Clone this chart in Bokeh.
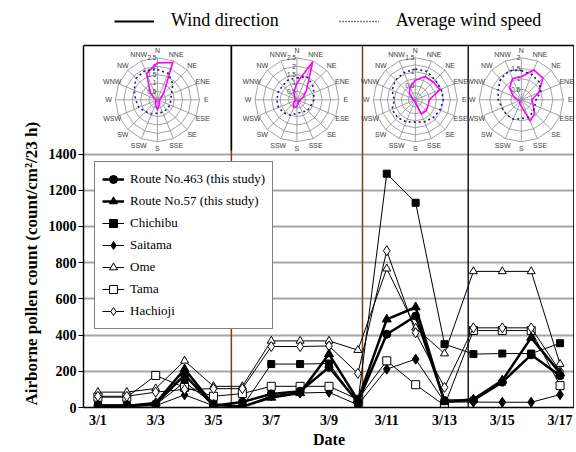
import numpy as np
from bokeh.plotting import figure
from bokeh.models import Range1d, FixedTicker, Legend, LegendItem, Title
from bokeh.core.properties import value
from bokeh.embed import file_html
from bokeh.resources import INLINE

# ---------------- data ----------------
dates = ["3/1", "3/2", "3/3", "3/4", "3/5", "3/6", "3/7", "3/8", "3/9",
         "3/10", "3/11", "3/12", "3/13", "3/14", "3/15", "3/16", "3/17"]
tick_idx = [0, 2, 4, 6, 8, 10, 12, 14, 16]
y_ticks = [0, 200, 400, 600, 800, 1000, 1200, 1400]

route463 = [10, 10, 20, 180, 10, 30, 75, 90, 222, 30, 405, 505, 38, 40, 140, 291, 176]
route57 = [8, 8, 25, 212, 15, 5, 55, 80, 295, 40, 487, 554, 30, 45, 150, 386, 190]
chichibu = [15, 15, 15, 140, 20, 5, 240, 240, 243, 25, 1292, 1131, 350, 295, 298, 298, 355]
saitama = [5, 5, 10, 70, 10, 5, 65, 80, 84, 15, 212, 267, 30, 30, 29, 29, 71]
ome = [85, 85, 105, 258, 117, 117, 368, 368, 368, 317, 767, 440, 298, 752, 752, 752, 240]
tama = [57, 57, 177, 111, 62, 77, 117, 117, 117, 45, 258, 126, 11, 425, 425, 425, 121]
hachioji = [62, 62, 85, 100, 104, 104, 337, 337, 340, 188, 866, 413, 111, 440, 440, 440, 200]

# wind roses (16 directions, clockwise from N)
rose_dirs = ["N", "NNE", "NE", "ENE", "E", "ESE", "SE", "SSE",
             "S", "SSW", "SW", "WSW", "W", "WNW", "NW", "NNW"]
rose1_direction = [2.2, 2.4, 0.5, 0.2, 0.15, 0.1, 0.15, 0.3, 0.6, 0.3, 0.15, 0.1, 0.1, 0.2, 0.6, 1.7]
rose1_speed = [1.8, 1.7, 1.3, 0.9, 0.8, 0.8, 0.8, 0.8, 0.8, 0.9, 1.0, 1.2, 1.3, 1.5, 1.8, 1.9]
rose2_direction = [1.0, 2.45, 0.8, 0.4, 0.2, 0.2, 0.1, 0.2, 0.4, 0.5, 0.3, 0.1, 0.1, 0.1, 0.2, 0.5]
rose2_speed = [1.3, 1.5, 1.3, 1.1, 1.0, 0.9, 0.9, 0.8, 0.8, 1.0, 1.1, 1.2, 1.2, 1.2, 1.2, 1.3]
rose3_direction = [0.7, 0.9, 0.9, 0.95, 0.5, 0.5, 0.55, 0.55, 0.1, 0.05, 0.05, 0.05, 0.1, 0.1, 0.3, 0.5]
rose3_speed = [1.1, 1.1, 1.0, 1.0, 1.0, 0.95, 0.9, 0.85, 0.8, 0.85, 0.9, 0.9, 0.75, 0.9, 1.0, 1.05]
rose4_direction = [1.1, 1.55, 1.45, 0.9, 0.5, 0.6, 0.9, 1.1, 0.3, 0.2, 0.1, 0.1, 0.2, 0.4, 0.8, 1.1]
rose4_speed = [1.4, 1.3, 1.2, 1.0, 0.7, 0.7, 0.8, 0.9, 0.9, 1.0, 1.0, 1.0, 1.1, 1.2, 1.4, 1.5]
rose_max = [2.5, 2.5, 1.5, 2.0]
rose_step = [0.5, 0.5, 0.25, 0.5]
rose_ring_labels = [["0.5", "1", "1.5", "2", "2.5"], ["0.5", "1", "1.5", "2", "2.5"],
                    ["", "0.5", "", "1", "", "1.5"], ["0.5", "1", "1.5", "2"]]

separators = [4.62, 9.16, 12.82]

# ---------------- figure ----------------
SERIF = "Liberation Serif"
SANS = "Liberation Sans"
n = len(dates)
x = list(range(n))
Y_TOP = 2000          # top of the boxed chart area
Y_END = 2248.6        # frame also holds the legend strip above the box
FRAME_W, FRAME_H = 491, 407

p = figure(width=574, height=452, output_backend="svg", toolbar_location=None,
           x_range=Range1d(-0.5, n - 0.5), y_range=Range1d(0, Y_END),
           min_border_left=83, min_border_right=0, min_border_top=0, min_border_bottom=45)
p.title.visible = False
p.extra_x_ranges = {"rx": Range1d(0, FRAME_W)}
p.extra_y_ranges = {"ry": Range1d(0, FRAME_H)}
p.outline_line_color = None
p.background_fill_color = "white"
p.border_fill_color = "white"

p.xgrid.visible = False
p.ygrid.ticker = FixedTicker(ticks=y_ticks)
p.ygrid.grid_line_color = "#a6a6a6"
p.ygrid.grid_line_width = 2

p.yaxis.ticker = FixedTicker(ticks=y_ticks)
p.yaxis.bounds = (0, Y_TOP)
p.yaxis.minor_tick_line_color = None
p.yaxis.major_tick_in = 0
p.yaxis.major_tick_out = 5
p.yaxis.major_label_standoff = 2
p.yaxis.axis_line_width = 1.5
p.yaxis.major_label_text_font = SERIF
p.yaxis.major_label_text_font_style = "bold"
p.yaxis.major_label_text_font_size = "14px"
p.yaxis.major_label_text_color = "black"

p.xaxis.ticker = FixedTicker(ticks=tick_idx)
p.xaxis.major_label_overrides = {i: dates[i] for i in tick_idx}
p.xaxis.minor_tick_line_color = None
p.xaxis.major_tick_in = 0
p.xaxis.major_tick_out = 0
p.xaxis.major_label_standoff = 5
p.xaxis.axis_line_width = 1.5
p.xaxis.major_label_text_font = SERIF
p.xaxis.major_label_text_font_style = "bold"
p.xaxis.major_label_text_font_size = "14px"
p.xaxis.major_label_text_color = "black"
p.xaxis.axis_label = "Date"
p.xaxis.axis_label_text_font = SERIF
p.xaxis.axis_label_text_font_style = "bold"
p.xaxis.axis_label_text_font_size = "16px"
p.xaxis.axis_label_text_color = "black"
p.xaxis.axis_label_standoff = 0

p.add_layout(Title(text="Airborne pollen count (count/cm\u00b2/23 h)", align="left", offset=2,
                   standoff=9, text_font=SERIF, text_font_style="bold", text_font_size="17px",
                   text_color="black"), "left")

# box (top and right edges) and separators
p.segment(x0=[-0.5], y0=[Y_TOP], x1=[n - 0.5], y1=[Y_TOP], line_color="black", line_width=1.5)
p.segment(x0=[n - 0.52], y0=[0], x1=[n - 0.52], y1=[Y_TOP], line_color="black", line_width=1.5)
sep_colors = ["#7b3f1d", "#7b3f1d", "#1a1a2e"]
p.segment(x0=separators, y0=[0] * 3, x1=separators, y1=[Y_TOP] * 3,
          line_color=sep_colors, line_width=1.5)
p.segment(x0=[separators[0]], y0=[1420], x1=[separators[0]], y1=[Y_TOP],
          line_color="black", line_width=1.5)

# ---------------- wind roses ----------------
rose_dir_data = [rose1_direction, rose2_direction, rose3_direction, rose4_direction]
rose_spd_data = [rose1_speed, rose2_speed, rose3_speed, rose4_speed]
edges = [-0.5] + separators + [n - 0.5]
R = 42.0
cy = 1700 * FRAME_H / Y_END
ang = np.deg2rad(np.arange(16) * 22.5)
angc = np.append(ang, ang[0])
for k in range(4):
    xc = (edges[k] + edges[k + 1]) / 2.0
    cx = (xc + 0.5) * FRAME_W / n
    mx = rose_max[k]
    nring = int(round(mx / rose_step[k]))
    ring_vals = [rose_step[k] * (i + 1) for i in range(nring)]
    xs, ys = [], []
    for v in ring_vals:
        r = v / mx * R
        xs.append(list(cx + r * np.sin(angc)))
        ys.append(list(cy + r * np.cos(angc)))
    p.multi_line(xs, ys, line_color="#8c8c8c", line_width=0.8,
                 x_range_name="rx", y_range_name="ry")
    p.segment(x0=[cx] * 16, y0=[cy] * 16, x1=list(cx + R * np.sin(ang)),
              y1=list(cy + R * np.cos(ang)), line_color="#8c8c8c", line_width=0.8,
              x_range_name="rx", y_range_name="ry")
    LR = R + 7
    p.text(x=list(cx + LR * np.sin(ang)), y=list(cy + LR * np.cos(ang)), text=rose_dirs,
           text_font=value(SANS), text_font_size="7px", text_color="#404040",
           text_align="center", text_baseline="middle",
           x_range_name="rx", y_range_name="ry")
    p.text(x=[cx - 1] * nring, y=[cy + v / mx * R for v in ring_vals],
           text=rose_ring_labels[k], text_font=value(SANS), text_font_size="6.5px",
           text_color="#404040", text_align="right", text_baseline="middle",
           x_range_name="rx", y_range_name="ry")
    d = np.array(rose_dir_data[k]) / mx * R
    dc = np.append(d, d[0])
    p.line(x=list(cx + dc * np.sin(angc)), y=list(cy + dc * np.cos(angc)),
           line_color="#ff00ff", line_width=1.6, x_range_name="rx", y_range_name="ry")
    sp = np.array(rose_spd_data[k]) / mx * R
    spc = np.append(sp, sp[0])
    p.line(x=list(cx + spc * np.sin(angc)), y=list(cy + spc * np.cos(angc)),
           line_color="#1a1a70", line_width=1.6, line_dash="2 3",
           x_range_name="rx", y_range_name="ry")

# ---------------- pollen series ----------------
series = [
    ("Route No.463 (this study)", route463, "circle", 8, "black", 2.5),
    ("Route No.57 (this study)", route57, "triangle", 9, "black", 2.5),
    ("Chichibu", chichibu, "square", 7, "black", 1),
    ("Saitama", saitama, "diamond", 10, "black", 1),
    ("Ome", ome, "triangle", 8, "white", 1),
    ("Tama", tama, "square", 8, "white", 1),
    ("Hachioji", hachioji, "diamond", 10, "white", 1),
]
draw_order = [2, 3, 4, 5, 6, 1, 0]
renderers = {}
for i in draw_order:
    name, vals, marker, size, fill, lw = series[i]
    rl = p.line(x, vals, line_color="black", line_width=lw)
    rs = p.scatter(x, vals, marker=marker, size=size, fill_color=fill,
                   line_color="black", line_width=1)
    renderers[i] = [rl, rs]

legend = Legend(items=[LegendItem(label=series[i][0], renderers=renderers[i]) for i in range(len(series))],
                location=(11, 78), padding=7, spacing=2, glyph_width=22, glyph_height=20,
                label_height=20, label_standoff=6, label_width=128, margin=0,
                label_text_font=SERIF, label_text_font_size="13px", label_text_color="black",
                border_line_color="black", border_line_width=1.2,
                background_fill_color="white", background_fill_alpha=1)
p.add_layout(legend)

# legend for the wind roses (strip above the box)
r_wd = p.line([np.nan], [np.nan], line_color="black", line_width=2)
r_ws = p.line([np.nan], [np.nan], line_color="black", line_width=1.5, line_dash="1 2")
top_legend = Legend(items=[LegendItem(label="Wind direction", renderers=[r_wd]),
                           LegendItem(label="Average wind speed", renderers=[r_ws])],
                    orientation="horizontal", location=(31, 376), padding=0, spacing=60,
                    glyph_width=40, glyph_height=20, label_height=20, label_standoff=17,
                    margin=0,
                    label_text_font=SERIF, label_text_font_size="18px", label_text_color="black",
                    border_line_color=None, background_fill_alpha=0)
p.add_layout(top_legend)

open("out.html", "w").write(file_html(p, INLINE))
